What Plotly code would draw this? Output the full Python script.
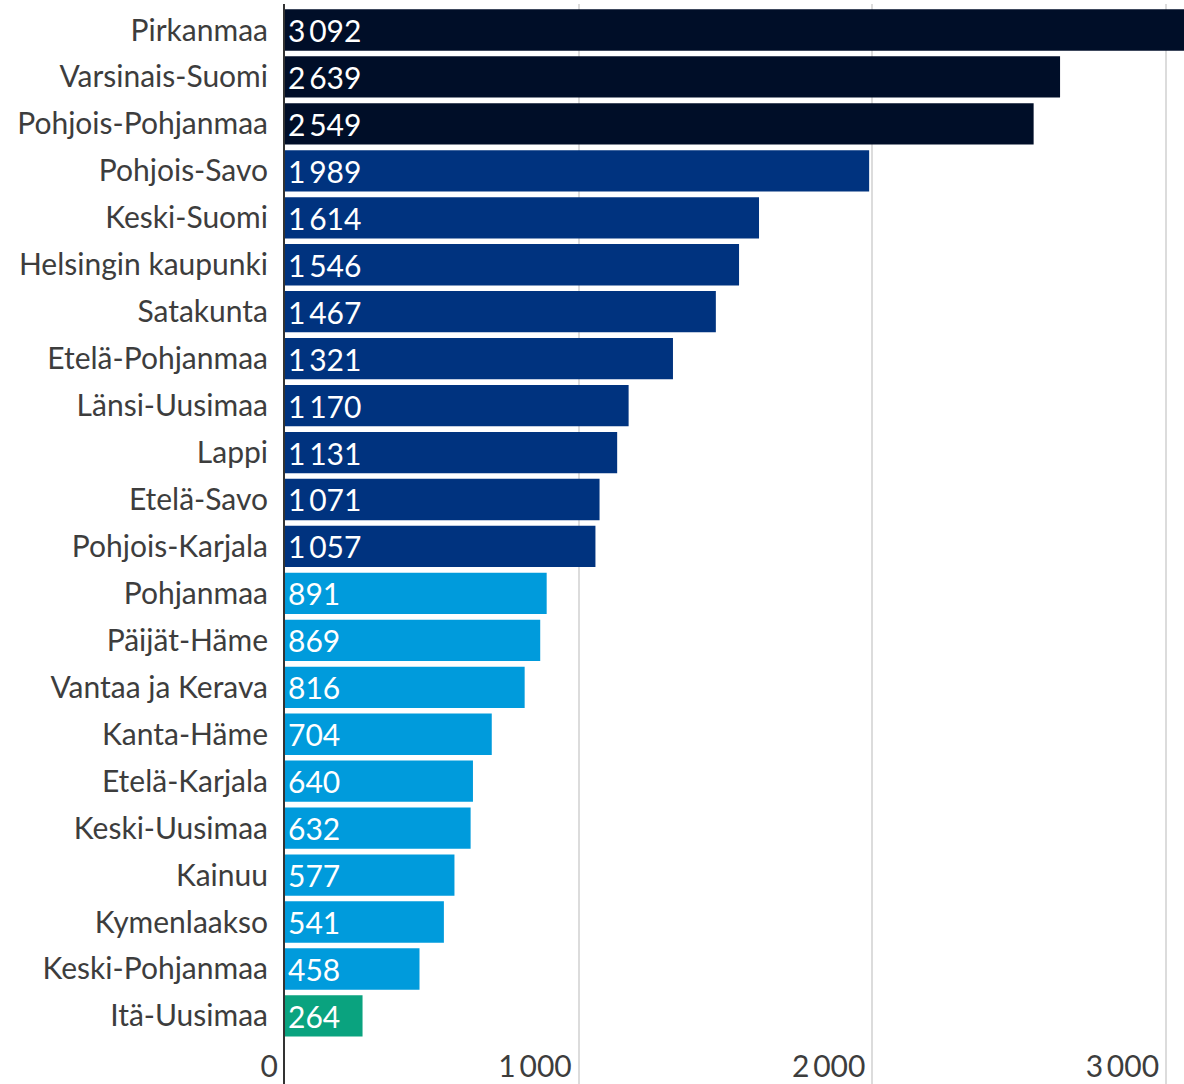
import plotly.graph_objects as go

regions = ["Pirkanmaa", "Varsinais-Suomi", "Pohjois-Pohjanmaa", "Pohjois-Savo", "Keski-Suomi",
           "Helsingin kaupunki", "Satakunta", "Etelä-Pohjanmaa", "Länsi-Uusimaa", "Lappi",
           "Etelä-Savo", "Pohjois-Karjala", "Pohjanmaa", "Päijät-Häme", "Vantaa ja Kerava",
           "Kanta-Häme", "Etelä-Karjala", "Keski-Uusimaa", "Kainuu", "Kymenlaakso",
           "Keski-Pohjanmaa", "Itä-Uusimaa"]
values = [3092, 2639, 2549, 1989, 1614, 1546, 1467, 1321, 1170, 1131, 1071, 1057,
          891, 869, 816, 704, 640, 632, 577, 541, 458, 264]
groups = [0, 0, 0] + [1] * 9 + [2] * 9 + [3]
group_colors = ["#000e28", "#00337f", "#009bdc", "#0aa37f"]
tick_vals = [0, 1000, 2000, 3000]
tick_text = ["0", "1\u2009000", "2\u2009000", "3\u2009000"]

def fmt(v):
    return f"{v:,}".replace(",", "\u2009")

fig = go.Figure(go.Bar(
    x=values, y=regions, orientation="h",
    marker=dict(color=[group_colors[g] for g in groups], line=dict(width=0)),
    text=[fmt(v) for v in values],
    textposition="inside", insidetextanchor="start",
    textfont=dict(family="Lato", size=30, color="white"),
    constraintext="none",
    hoverinfo="x+y",
))

fig.update_layout(
    width=1184, height=1084,
    margin=dict(l=285, r=0, t=4, b=0),
    plot_bgcolor="white", paper_bgcolor="white",
    bargap=0.12,
    showlegend=False,
    font=dict(family="Lato", size=30, color="#3d3d3d"),
    xaxis=dict(range=[0, 3061], tickvals=tick_vals, ticktext=tick_text,
               showgrid=True, gridcolor="#dcdcdc", gridwidth=1.5,
               zeroline=False, showline=False,
               ticklabelposition="inside left", ticklabeloverflow="allow",
               ticklabelshift=-7, ticklabelstandoff=-5,
               tickfont=dict(family="Lato", size=30, color="#3d3d3d")),
    yaxis=dict(categoryorder="array", categoryarray=regions,
               range=[22.45, -0.554],
               showline=True, linecolor="#333333", linewidth=2,
               showgrid=False, ticks="", ticklabelstandoff=9,
               tickfont=dict(family="Lato", size=30, color="#3d3d3d")),
)

fig.write_html("out.html", config={"displayModeBar": False},
               post_script="document.body.style.margin='0';document.body.style.padding='0';")
